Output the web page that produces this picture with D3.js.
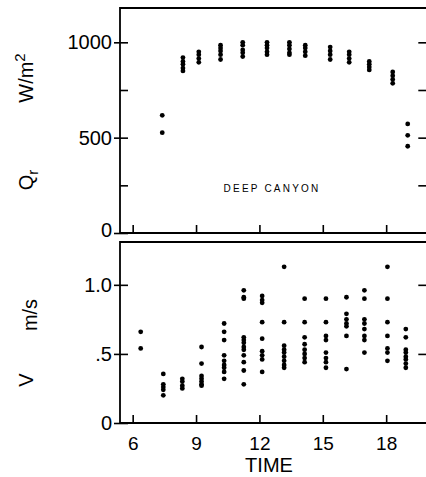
<!DOCTYPE html>
<html>
<head>
<meta charset="utf-8">
<script src="https://cdnjs.cloudflare.com/ajax/libs/d3/7.8.5/d3.min.js"></script>
<style>
  body { margin: 0; background: #fff; }
  svg { display: block; font-family: "Liberation Sans", Arial, sans-serif; }
</style>
</head>
<body>
<div id="chart"></div>
<script>
// hour of day for each cluster of readings
var qrTimes = [7.40, 8.38, 9.13, 10.16, 11.21, 12.36, 13.42, 14.17, 15.35, 16.25, 17.20, 18.31, 19.02];
// net radiation Qr, W/m2
var qrValues = [
  [617, 526],
  [920, 900, 885, 865, 850],
  [950, 935, 915, 895],
  [985, 970, 955, 935, 910],
  [1000, 985, 960, 945, 925],
  [1000, 985, 970, 950, 935],
  [1000, 985, 965, 945, 935],
  [985, 970, 950, 930],
  [975, 955, 935, 910],
  [950, 935, 915, 895],
  [900, 885, 870, 855],
  [845, 825, 805, 785],
  [572, 512, 455]
];

var vTimes = [6.38, 7.45, 8.35, 9.26, 10.33, 11.26, 12.13, 13.17, 14.14, 15.15, 16.12, 16.97, 18.06, 18.93];
// wind speed V, m/s
var vValues = [
  [0.66, 0.54],
  [0.355, 0.28, 0.26, 0.24, 0.20],
  [0.32, 0.30, 0.27, 0.25],
  [0.55, 0.43, 0.34, 0.32, 0.30, 0.28, 0.27],
  [0.72, 0.66, 0.60, 0.49, 0.45, 0.42, 0.40, 0.37, 0.32],
  [0.96, 0.91, 0.90, 0.62, 0.60, 0.58, 0.55, 0.53, 0.49, 0.44, 0.38, 0.28],
  [0.92, 0.89, 0.87, 0.73, 0.61, 0.52, 0.49, 0.46, 0.37],
  [1.13, 0.73, 0.56, 0.53, 0.51, 0.48, 0.45, 0.42, 0.40],
  [0.90, 0.73, 0.62, 0.57, 0.53, 0.50, 0.47, 0.44],
  [0.90, 0.73, 0.63, 0.60, 0.51, 0.47, 0.44, 0.40],
  [0.91, 0.79, 0.75, 0.72, 0.70, 0.63, 0.39],
  [0.96, 0.90, 0.75, 0.72, 0.68, 0.63, 0.60, 0.51],
  [1.13, 0.90, 0.73, 0.63, 0.54, 0.51, 0.45],
  [0.68, 0.62, 0.53, 0.51, 0.48, 0.46, 0.43, 0.40]
];

var timeTicks = [6, 9, 12, 15, 18];
var qrTicks = [0, 250, 500, 750, 1000];
var qrLabels = {0: "0", 500: "500", 1000: "1000"};
var vTicks = [0, 0.5, 1.0];
var vLabels = {0: "0", 0.5: ".5", 1: "1.0"};

var w = 426, h = 477;
var left = 120, right = 426.3;
var top1 = 8, bot1 = 233, top2 = 242, bot2 = 423;

var svg = d3.select("#chart").append("svg")
  .attr("width", w).attr("height", h);

var x = d3.scaleLinear().domain([5.4, 19.9]).range([left, right]);
var yQ = d3.scaleLinear().domain([0, 1180]).range([bot1, top1]);
var yV = d3.scaleLinear().domain([0, 1.31]).range([bot2, top2]);

function flatten(times, values) {
  var out = [];
  times.forEach(function(t, i) {
    values[i].forEach(function(v) { out.push({t: t, v: v}); });
  });
  return out;
}

function frame(y0, y1) {
  svg.append("path")
    .attr("d", "M" + (w + 4) + "," + y0 + "H" + left + "V" + y1 + "H" + (w + 4))
    .attr("fill", "none").attr("stroke", "#000").attr("stroke-width", 1.8);
}

function styleAxis(g) {
  g.select(".domain").remove();
  g.selectAll("line").attr("stroke", "#000").attr("stroke-width", 1.6);
  g.selectAll("text").attr("fill", "#000").attr("font-family", null);
}

function panel(y, y0, y1, ticks, labels, data, major, labelsOnX) {
  frame(y0, y1);

  // left axis: inward ticks, majors cross the line
  var gl = svg.append("g").attr("transform", "translate(" + left + ",0)")
    .call(d3.axisLeft(y).tickValues(ticks).tickSize(-8).tickPadding(8)
      .tickFormat(function(d) { return labels[d] || ""; }))
    .attr("font-size", 20);
  styleAxis(gl);
  gl.selectAll(".tick line").attr("x1", function(d) { return major.indexOf(d) >= 0 ? -6 : 0; });
  // upper panel: the zero label sits just above the bottom line
  if (!labelsOnX) {
    gl.selectAll(".tick text").filter(function(d) { return d === 0; }).attr("y", -3);
  }

  var gr = svg.append("g").attr("transform", "translate(" + right + ",0)")
    .call(d3.axisRight(y).tickValues(ticks.filter(function(d) { return d > 0; }))
      .tickSize(-8).tickFormat(""));
  styleAxis(gr);

  var gb = svg.append("g").attr("transform", "translate(0," + y1 + ")")
    .call(d3.axisBottom(x).tickValues(timeTicks).tickSize(-8).tickPadding(14)
      .tickFormat(labelsOnX ? d3.format("d") : ""))
    .attr("font-size", 19);
  styleAxis(gb);

  svg.append("g").selectAll("circle")
    .data(data)
    .enter().append("circle")
    .attr("cx", function(d) { return x(d.t); })
    .attr("cy", function(d) { return y(d.v); })
    .attr("r", 2.4)
    .attr("fill", "#000");
}

panel(yQ, top1, bot1, qrTicks, qrLabels, flatten(qrTimes, qrValues), [0, 500, 1000], false);
panel(yV, top2, bot2, vTicks, vLabels, flatten(vTimes, vValues), [0, 0.5, 1.0], true);

svg.append("text")
  .attr("x", 272).attr("y", 192)
  .attr("text-anchor", "middle")
  .attr("font-size", 10).attr("letter-spacing", 2.2)
  .text("DEEP CANYON");

svg.append("text")
  .attr("x", 269).attr("y", 472)
  .attr("text-anchor", "middle")
  .attr("font-size", 20)
  .text("TIME");

// rotated axis titles
function vlabel(cx, cy, build) {
  var t = svg.append("text")
    .attr("transform", "translate(" + cx + "," + cy + ") rotate(-90)")
    .attr("font-size", 20);
  build(t);
}

vlabel(33, 78, function(t) {
  t.attr("text-anchor", "middle");
  t.append("tspan").text("W/m");
  t.append("tspan").attr("dy", -8).attr("font-size", 15).text("2");
});
vlabel(33, 180, function(t) {
  t.attr("text-anchor", "middle");
  t.append("tspan").text("Q");
  t.append("tspan").attr("dy", 5).attr("font-size", 15).text("r");
});
vlabel(37, 315, function(t) {
  t.attr("text-anchor", "middle").text("m/s");
});
vlabel(33, 380, function(t) {
  t.attr("text-anchor", "middle").text("V");
});
</script>
</body>
</html>
